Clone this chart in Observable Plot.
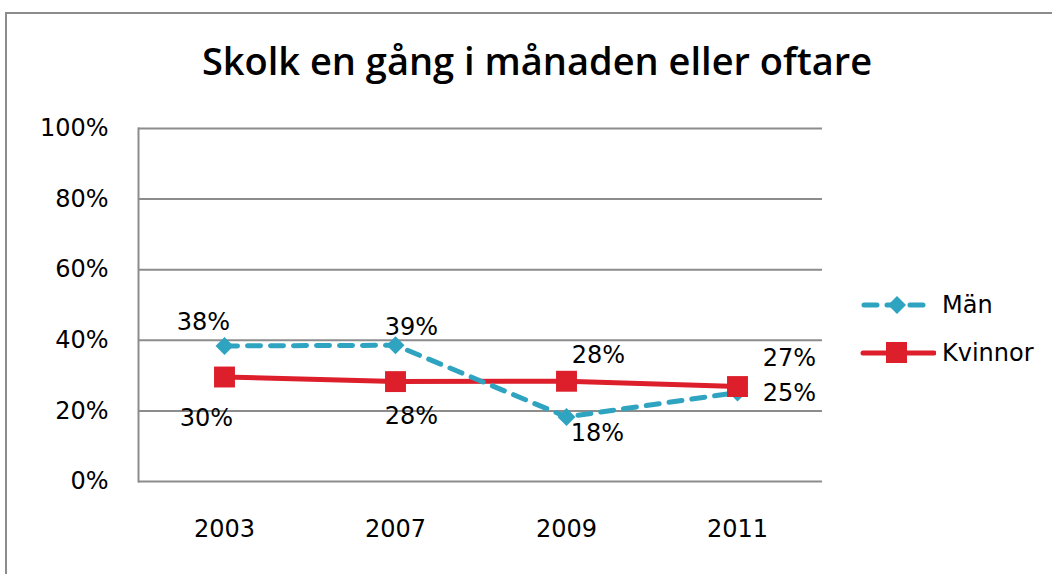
<!DOCTYPE html>
<html>
<head>
<meta charset="utf-8">
<script src="https://cdn.jsdelivr.net/npm/d3@7"></script>
<script src="https://cdn.jsdelivr.net/npm/@observablehq/plot@0.6"></script>
<style>
  html, body { margin: 0; padding: 0; background: #fff; overflow: hidden; }
  #wrap { position: relative; width: 1052px; height: 574px; font-family: "DejaVu Sans", sans-serif; }
  #frame { position: absolute; left: 5px; top: 12px; width: 2000px; height: 2000px;
           border-top: 2px solid #8c8c8c; border-left: 2px solid #8c8c8c; box-sizing: border-box; }
  #title { position: absolute; left: 0; top: 37px; width: 1074px; text-align: center;
           font-family: "Open Sans", sans-serif; font-weight: 600; font-size: 38px; line-height: 46px; color: #000; }
  #legend { position: absolute; left: 860px; top: 288px; font-size: 24px; color: #000; }
  #legend .item { display: flex; align-items: center; height: 34px; margin-bottom: 14px; }
  #legend svg { display: block; margin-right: 6px; }
  #chart { position: absolute; left: 0; top: 0; }
</style>
</head>
<body>
<div id="wrap">
  <div id="frame"></div>
  <div id="chart"></div>
  <div id="title"></div>
  <div id="legend"></div>
</div>
<script>
const titleText = "Skolk en gång i månaden eller oftare";
const years = ["2003", "2007", "2009", "2011"];
const seriesNames = ["Män", "Kvinnor"];
const manValues = [38.4, 38.6, 18.3, 25.2];
const kvinnorValues = [29.6, 28.3, 28.4, 26.9];
const yTicks = [0, 20, 40, 60, 80, 100];

const colors = { "Män": "#2fa4c1", "Kvinnor": "#dc1f2b" };
// label placement (style): [dx, dy] per point
const labelOffsets = {
  "Män": [[-21, -24], [16, -18], [31, 16], [52, 1]],
  "Kvinnor": [[-18, 41], [16, 35], [32, -26], [52, -28]]
};

const data = [];
years.forEach((yr, i) => {
  data.push({ series: "Män", year: yr, value: manValues[i], i });
  data.push({ series: "Kvinnor", year: yr, value: kvinnorValues[i], i });
});
const man = data.filter(d => d.series === "Män");
const kv = data.filter(d => d.series === "Kvinnor");

const labelMarks = data.map(d => Plot.text([d], {
  x: "year", y: "value",
  text: v => Math.round(v.value) + "%",
  dx: labelOffsets[d.series][d.i][0],
  dy: labelOffsets[d.series][d.i][1],
  fill: "#000", fontSize: 24
}));

const chart = Plot.plot({
  width: 1052, height: 574,
  marginLeft: 138, marginRight: 230, marginTop: 128, marginBottom: 93,
  style: { fontFamily: "DejaVu Sans, sans-serif", fontSize: "24px", background: "transparent", color: "#000" },
  x: { type: "point", domain: years, padding: 0.5 },
  y: { domain: [0, 100] },
  marks: [
    Plot.gridY(yTicks, { stroke: "#8c8c8c", strokeOpacity: 1, strokeWidth: 2 }),
    Plot.frame({ anchor: "left", stroke: "#8c8c8c", strokeWidth: 2 }),
    Plot.axisY(yTicks, { tickSize: 0, tickPadding: 30, tickFormat: d => d + "%", label: null, fontSize: 24 }),
    Plot.axisX({ tickSize: 0, tickPadding: 38, label: null, fontSize: 24 }),
    Plot.line(kv, { x: "year", y: "value", stroke: colors["Kvinnor"], strokeWidth: 5 }),
    Plot.line(man, { x: "year", y: "value", stroke: colors["Män"], strokeWidth: 5, strokeDasharray: "13,10", strokeLinecap: "round" }),
    Plot.dot(man, { x: "year", y: "value", symbol: "diamond2", r: 8.1, fill: colors["Män"], stroke: "none" }),
    Plot.dot(kv, { x: "year", y: "value", symbol: "square", r: 11.8, fill: colors["Kvinnor"], stroke: "none" }),
    ...labelMarks
  ]
});
document.getElementById("chart").appendChild(chart);
document.getElementById("title").textContent = titleText;

// legend
const legend = document.getElementById("legend");
seriesNames.forEach(name => {
  const item = document.createElement("div");
  item.className = "item";
  const c = colors[name];
  const dashed = name === "Män";
  const marker = dashed
    ? `<path d="M37,8 L46,17 L37,26 L28,17 Z" fill="${c}"/>`
    : `<rect x="26" y="6" width="21" height="21" fill="${c}"/>`;
  const line = dashed
    ? `<line x1="4" y1="17" x2="72" y2="17" stroke="${c}" stroke-width="5" stroke-linecap="round" stroke-dasharray="13,10"/>`
    : `<line x1="3" y1="17" x2="74" y2="17" stroke="${c}" stroke-width="5" stroke-linecap="round"/>`;
  item.innerHTML = `<svg width="76" height="34">${line}${marker}</svg><span>${name}</span>`;
  legend.appendChild(item);
});
</script>
</body>
</html>
